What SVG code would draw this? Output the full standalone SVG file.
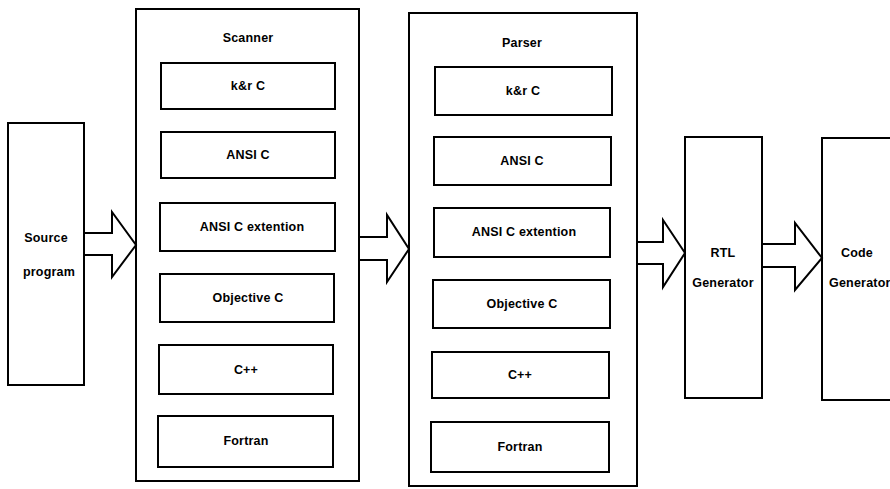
<svg xmlns="http://www.w3.org/2000/svg" width="890" height="489" viewBox="0 0 890 489">
<style>
.box{fill:#fff;stroke:#000;stroke-width:2}
.arr{fill:#fff;stroke:#000;stroke-width:2;stroke-linejoin:miter}
text{font-family:"Liberation Sans",Arial,sans-serif;font-size:12.5px;font-weight:bold;letter-spacing:0.2px;fill:#000;text-anchor:middle;dominant-baseline:central}
</style>
<rect width="890" height="489" fill="#fff"/>
<g id="source">
<rect class="box" x="8" y="123" width="76" height="262"/>
<text x="46" y="238">Source</text>
<text x="49" y="272">program</text>
</g>
<g id="scanner">
<rect class="box" x="136" y="9" width="223" height="472"/>
<text x="248" y="38">Scanner</text>
<g id="s1"><rect class="box" x="161" y="63" width="174" height="46"/><text x="248" y="86">k&amp;r C</text></g>
<g id="s2"><rect class="box" x="161" y="132" width="174" height="46"/><text x="248" y="155">ANSI C</text></g>
<g id="s3"><rect class="box" x="160" y="203" width="175" height="48"/><text x="252" y="227">ANSI C extention</text></g>
<g id="s4"><rect class="box" x="160" y="274" width="174" height="48"/><text x="248" y="298">Objective C</text></g>
<g id="s5"><rect class="box" x="159" y="345" width="174" height="49"/><text x="246" y="370">C++</text></g>
<g id="s6"><rect class="box" x="158" y="416" width="175" height="51"/><text x="246" y="441">Fortran</text></g>
</g>
<g id="parser">
<rect class="box" x="409" y="13" width="228" height="473"/>
<text x="522" y="43">Parser</text>
<g id="p1"><rect class="box" x="435" y="67" width="177" height="48"/><text x="523" y="91">k&amp;r C</text></g>
<g id="p2"><rect class="box" x="434" y="137" width="177" height="48"/><text x="522" y="161">ANSI C</text></g>
<g id="p3"><rect class="box" x="434" y="208" width="176" height="49"/><text x="524" y="232">ANSI C extention</text></g>
<g id="p4"><rect class="box" x="433" y="280" width="177" height="48"/><text x="522" y="304">Objective C</text></g>
<g id="p5"><rect class="box" x="432" y="352" width="177" height="46"/><text x="520" y="375">C++</text></g>
<g id="p6"><rect class="box" x="431" y="422" width="178" height="50"/><text x="520" y="447">Fortran</text></g>
</g>
<g id="rtl">
<rect class="box" x="685" y="137" width="77" height="261"/>
<text x="723" y="253">RTL</text>
<text x="723" y="283">Generator</text>
</g>
<g id="codegen">
<rect class="box" x="822" y="138" width="80" height="262"/>
<text x="857" y="253">Code</text>
<text x="829" y="283" style="text-anchor:start">Generator</text>
</g>
<g id="connectors">
<polygon class="arr" points="84,233 112,233 112,212 136,245 112,277 112,255 84,255"/>
<polygon class="arr" points="359,237 387,237 387,215 409,249 387,282 387,260 359,260"/>
<polygon class="arr" points="637,242 663,242 663,220 685,253 663,287 663,264 637,264"/>
<polygon class="arr" points="762,244 795,244 795,223 822,258 795,290 795,267 762,267"/>
</g>
</svg>
